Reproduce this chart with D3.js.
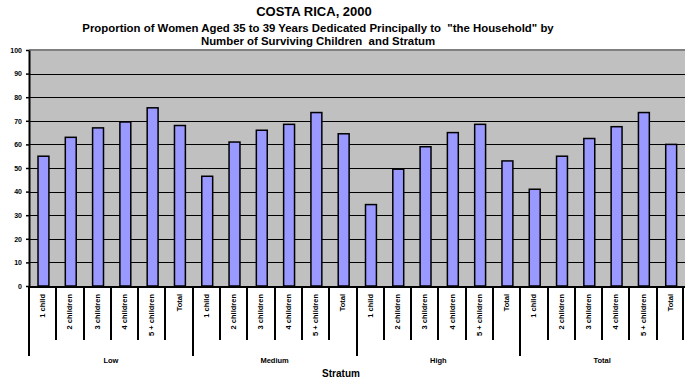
<!DOCTYPE html>
<html>
<head>
<meta charset="utf-8">
<script src="https://cdn.jsdelivr.net/npm/d3@7"></script>
<style>
  body { margin: 0; background: #fff; }
  text { font-family: "Liberation Sans", Arial, sans-serif; font-weight: bold; }
</style>
</head>
<body>
<svg width="685" height="383"></svg>
<script>
// data
var strata = ["Low", "Medium", "High", "Total"];
var children = ["1 child", "2 children", "3 children", "4 children", "5 + children", "Total"];
var lowVals = [55, 63, 67, 69.5, 75.5, 68];
var mediumVals = [46.5, 61, 66, 68.5, 73.5, 64.5];
var highVals = [34.5, 49.5, 59, 65, 68.5, 53];
var totalVals = [41, 55, 62.5, 67.5, 73.5, 60];
var yTicks = [0, 10, 20, 30, 40, 50, 60, 70, 80, 90, 100];

var seriesVals = [lowVals, mediumVals, highVals, totalVals];
var rows = [];
strata.forEach(function (s, i) {
    children.forEach(function (c, j) {
        rows.push({ id: s + "|" + c, stratum: s, label: c, value: seriesVals[i][j] });
    });
});

var svg = d3.select("svg"),
    width = +svg.attr("width"),
    height = +svg.attr("height");

// plot box (note: "top" is reserved on window, so use own names)
var plotL = 29, plotR = 684, plotT = 50, plotB = 286;

var x = d3.scaleBand()
    .domain(rows.map(function (d) { return d.id; }))
    .range([plotL, plotR]);

var y = d3.scaleLinear().domain([0, 100]).range([plotB, plotT]);

// plot background
svg.append("rect")
    .attr("x", plotL).attr("y", plotT)
    .attr("width", width - plotL).attr("height", plotB - plotT)
    .attr("fill", "#c0c0c0");

svg.append("line")
    .attr("x1", plotL).attr("x2", width)
    .attr("y1", plotT).attr("y2", plotT)
    .attr("stroke", "#808080").attr("stroke-width", 2);

// gridlines
svg.append("g")
    .selectAll("line")
    .data(yTicks.filter(function (t) { return t > 0 && t < 100; }))
    .enter().append("line")
    .attr("x1", plotL).attr("x2", width)
    .attr("y1", function (d) { return Math.round(y(d)) + 0.5; })
    .attr("y2", function (d) { return Math.round(y(d)) + 0.5; })
    .attr("stroke", "#000").attr("stroke-width", 1);

// bars
var bw = x.bandwidth();
svg.append("g")
    .selectAll("rect")
    .data(rows)
    .enter().append("rect")
    .attr("x", function (d) { return x(d.id) + bw * 0.33; })
    .attr("width", bw * 0.4)
    .attr("y", function (d) { return y(d.value); })
    .attr("height", function (d) { return y(0) - y(d.value); })
    .attr("fill", "#9999ff")
    .attr("stroke", "#000")
    .attr("stroke-width", 1.5);

// y axis
var yAxis = svg.append("g")
    .attr("transform", "translate(" + plotL + ",0)")
    .call(d3.axisLeft(y).tickValues(yTicks).tickSize(3).tickSizeOuter(0));
yAxis.select(".domain").attr("stroke-width", 2);
yAxis.selectAll(".tick line").attr("stroke-width", 1.5);
yAxis.selectAll("text")
    .attr("font-size", 7)
    .attr("x", -7)
    .attr("fill", "#000");

// x axis line
svg.append("line")
    .attr("x1", plotL - 1).attr("x2", width)
    .attr("y1", plotB + 1).attr("y2", plotB + 1)
    .attr("stroke", "#000").attr("stroke-width", 2);

// category separators
var seps = svg.append("g");
rows.forEach(function (d, i) {
    var xx = Math.round(x(d.id));
    var isGroup = i % children.length === 0;
    seps.append("line")
        .attr("x1", xx).attr("x2", xx)
        .attr("y1", plotB).attr("y2", isGroup ? 356 : 340)
        .attr("stroke", "#000").attr("stroke-width", 2);
});
seps.append("line")
    .attr("x1", plotR - 1).attr("x2", plotR - 1)
    .attr("y1", plotB).attr("y2", 340)
    .attr("stroke", "#000").attr("stroke-width", 2);

// category labels
svg.append("g")
    .selectAll("text")
    .data(rows)
    .enter().append("text")
    .attr("transform", function (d) {
        return "translate(" + (x(d.id) + bw / 2 + 2.5) + ",294) rotate(-90)";
    })
    .attr("text-anchor", "end")
    .attr("font-size", 7.5)
    .text(function (d) { return d.label; });

// group labels
svg.append("g")
    .selectAll("text")
    .data(strata)
    .enter().append("text")
    .attr("x", function (s) {
        var a = x(s + "|" + children[0]);
        var b = x(s + "|" + children[children.length - 1]) + bw;
        return (a + b) / 2;
    })
    .attr("y", 363)
    .attr("text-anchor", "middle")
    .attr("font-size", 7.5)
    .text(function (s) { return s; });

// axis title
svg.append("text")
    .attr("x", 341).attr("y", 377)
    .attr("text-anchor", "middle")
    .attr("font-size", 10)
    .text("Stratum");

// titles
svg.append("text")
    .attr("x", 314).attr("y", 16)
    .attr("text-anchor", "middle")
    .attr("font-size", 13)
    .text("COSTA RICA, 2000");

var subLines = ["Proportion of Women Aged 35 to 39 Years Dedicated Principally to  \"the Household\" by",
                "Number of Surviving Children  and Stratum"];
svg.append("g")
    .selectAll("text")
    .data(subLines)
    .enter().append("text")
    .attr("x", 318)
    .attr("y", function (d, i) { return 32 + i * 12.5; })
    .attr("text-anchor", "middle")
    .attr("font-size", 11.4)
    .style("white-space", "pre")
    .text(function (d) { return d; });
</script>
</body>
</html>
